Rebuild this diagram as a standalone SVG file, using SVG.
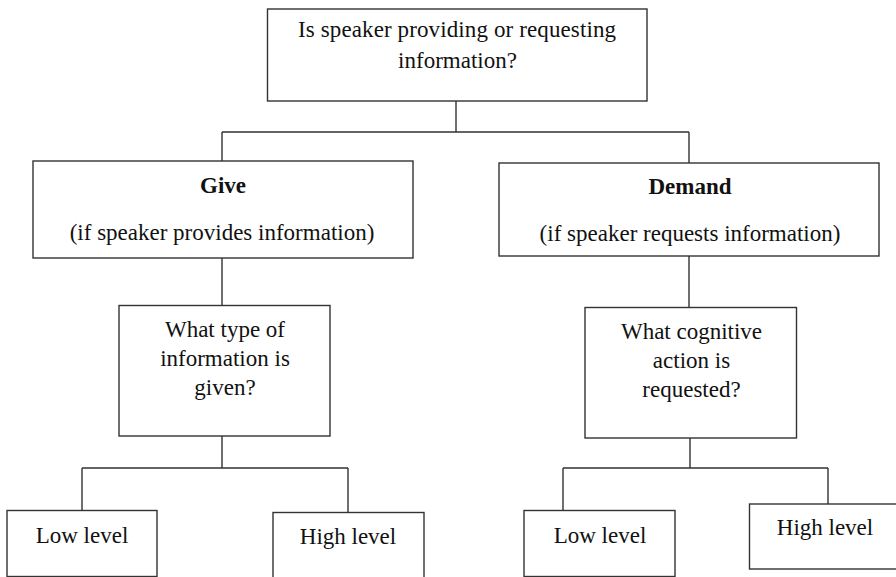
<svg xmlns="http://www.w3.org/2000/svg" width="896" height="577" viewBox="0 0 896 577">
<style>
.box{fill:#fff;stroke:#333;stroke-width:1.4}
.ln{fill:none;stroke:#333;stroke-width:1.4}
text{font-family:"Liberation Serif","Times New Roman",serif;font-size:23px;fill:#111;text-anchor:middle}
.b{font-weight:bold}
</style>
<rect width="896" height="577" fill="#fff"/>
<g id="connectors">
<path class="ln" d="M456 101V132M222 132H689M222 132V161M689 132V163"/>
<path class="ln" d="M222 258V305M689 256V308"/>
<path class="ln" d="M222 436V468M82 468H348M82 468V511M348 468V513"/>
<path class="ln" d="M690 438V468M563 468H828M563 468V511M828 468V504"/>
</g>
<g id="root">
<rect class="box" x="267.5" y="9" width="379.5" height="92"/>
<text x="457" y="37" textLength="318" lengthAdjust="spacing">Is speaker providing or requesting</text>
<text x="457.5" y="68">information?</text>
</g>
<g id="give">
<rect class="box" x="33" y="161" width="380" height="97"/>
<text class="b" x="223" y="193">Give</text>
<text x="222" y="240">(if speaker provides information)</text>
</g>
<g id="demand">
<rect class="box" x="499" y="163" width="380" height="93"/>
<text class="b" x="690" y="194">Demand</text>
<text x="690" y="241">(if speaker requests information)</text>
</g>
<g id="give-question">
<rect class="box" x="119" y="305.5" width="211" height="130.5"/>
<text x="225" y="337">What type of</text>
<text x="225" y="366">information is</text>
<text x="225" y="395">given?</text>
</g>
<g id="demand-question">
<rect class="box" x="585" y="307.5" width="211.5" height="130.5"/>
<text x="691.5" y="339">What cognitive</text>
<text x="691.5" y="368">action is</text>
<text x="691.5" y="397">requested?</text>
</g>
<g id="give-low">
<rect class="box" x="7" y="510.5" width="150" height="66"/>
<text x="82" y="542.5">Low level</text>
</g>
<g id="give-high">
<rect class="box" x="273" y="512.5" width="151" height="66"/>
<text x="348" y="544">High level</text>
</g>
<g id="demand-low">
<rect class="box" x="524" y="510.5" width="151" height="66"/>
<text x="600" y="542.5">Low level</text>
</g>
<g id="demand-high">
<rect class="box" x="749.5" y="504" width="150" height="65"/>
<text x="825" y="535">High level</text>
</g>
</svg>
